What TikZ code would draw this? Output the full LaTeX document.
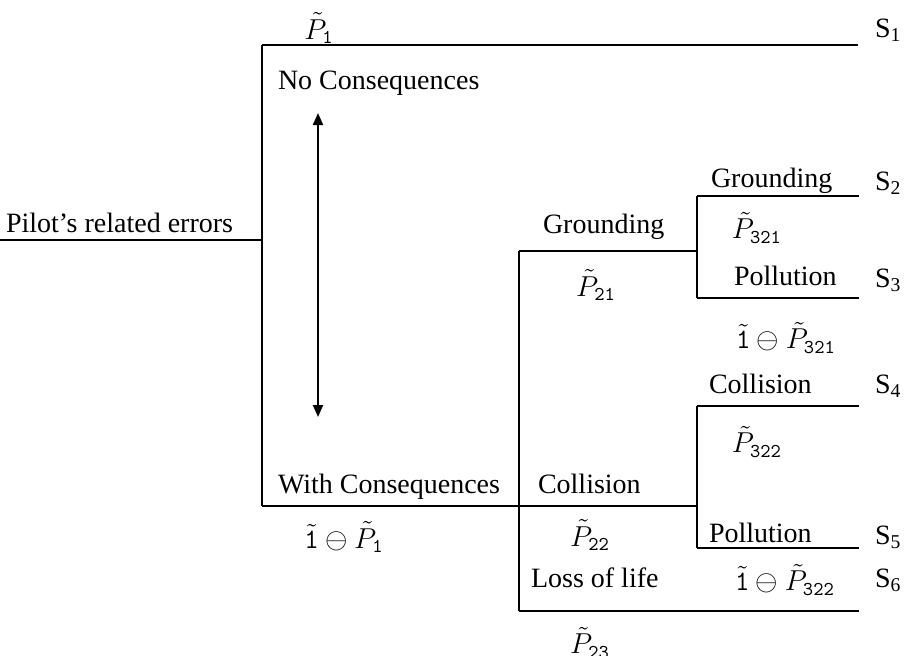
\documentclass[tikz,border=0pt]{standalone}
\usepackage{amsmath,amssymb}
\usepackage{fontspec}
\setmainfont{Liberation Serif}
\usepackage{tikz}
\usetikzlibrary{positioning,arrows.meta}

\begin{document}
\begin{tikzpicture}[x=0.5pt,y=-0.5pt,line width=1pt,font=\fontsize{14}{17}\selectfont,
  lbl/.style={anchor=base west,inner sep=0pt},
  prob/.style={inner sep=0pt},
  tip/.style={{Triangle[width=5pt,length=6pt]}-{Triangle[width=5pt,length=6pt]}}]
\useasboundingbox (0,0) rectangle (904,655);
% branch points
\coordinate (root) at (0,240);
\coordinate (r) at (262,240);
\coordinate (no) at (262,45);
\coordinate (with) at (262,506);
\coordinate (s1) at (858,45);
\coordinate (gtop) at (519,251);
\coordinate (ltop) at (519,611);
\coordinate (g) at (697,251);
\coordinate (c) at (697,506);
\coordinate (g2) at (697,196);
\coordinate (p3) at (697,298);
\coordinate (c4) at (697,406);
\coordinate (p5) at (697,548);
\coordinate (s2) at (859,196);
\coordinate (s3) at (859,298);
\coordinate (s4) at (859,406);
\coordinate (s5) at (859,548);
\coordinate (s6) at (859,611);
\coordinate (aup) at (318,113);
\coordinate (adn) at (318,417);
% tree
\draw (root) -- (r);
\draw (no) -- (with);
\draw (no) -- (s1);
\draw (with) -- (c);
\draw (gtop) -- (ltop);
\draw (gtop) -- (g);
\draw (ltop) -- (s6);
\draw (g2) -- (p3);
\draw (g2) -- (s2);
\draw (p3) -- (s3);
\draw (c4) -- (p5);
\draw (c4) -- (s4);
\draw (p5) -- (s5);
\draw[tip] (aup) -- (adn);
% labels
\node[lbl] (pilot) at (5,232) {Pilot's related errors};
\node[lbl] (nocons) at (277,89) {No Consequences};
\node[lbl] (wcons) at (277,493) {With Consequences};
\node[lbl] (grnd) at (542,233) {Grounding};
\node[lbl] (coll) at (537,493) {Collision};
\node[lbl] (loss) at (530,587) {Loss of life};
\node[lbl] (grnd2) at (710,187) {Grounding};
\node[lbl] (poll3) at (733,285) {Pollution};
\node[lbl] (coll4) at (708,393) {Collision};
\node[lbl] (poll5) at (708,542) {Pollution};
% probabilities
\node[prob] (p1) at (319,28) {$\tilde{P}_{\mathtt{1}}$};
\node[prob] (q1) at (344,537) {$\tilde{\mathtt{1}}\ominus\tilde{P}_{\mathtt{1}}$};
\node[prob] (p21) at (596,285) {$\tilde{P}_{\mathtt{21}}$};
\node[prob] (p22) at (590,535) {$\tilde{P}_{\mathtt{22}}$};
\node[prob] (p23) at (590,643) {$\tilde{P}_{\mathtt{23}}$};
\node[prob] (p321) at (757,228) {$\tilde{P}_{\mathtt{321}}$};
\node[prob] (q321) at (786,338) {$\tilde{\mathtt{1}}\ominus\tilde{P}_{\mathtt{321}}$};
\node[prob] (p322) at (757,442) {$\tilde{P}_{\mathtt{322}}$};
\node[prob] (q322) at (785,580) {$\tilde{\mathtt{1}}\ominus\tilde{P}_{\mathtt{322}}$};
% outcomes
\node[lbl] (o1) at (874,37) {S\textsubscript{1}};
\node[lbl] (o2) at (874,190) {S\textsubscript{2}};
\node[lbl] (o3) at (874,287) {S\textsubscript{3}};
\node[lbl] (o4) at (874,393) {S\textsubscript{4}};
\node[lbl] (o5) at (874,544) {S\textsubscript{5}};
\node[lbl] (o6) at (874,587) {S\textsubscript{6}};
\end{tikzpicture}
\end{document}
